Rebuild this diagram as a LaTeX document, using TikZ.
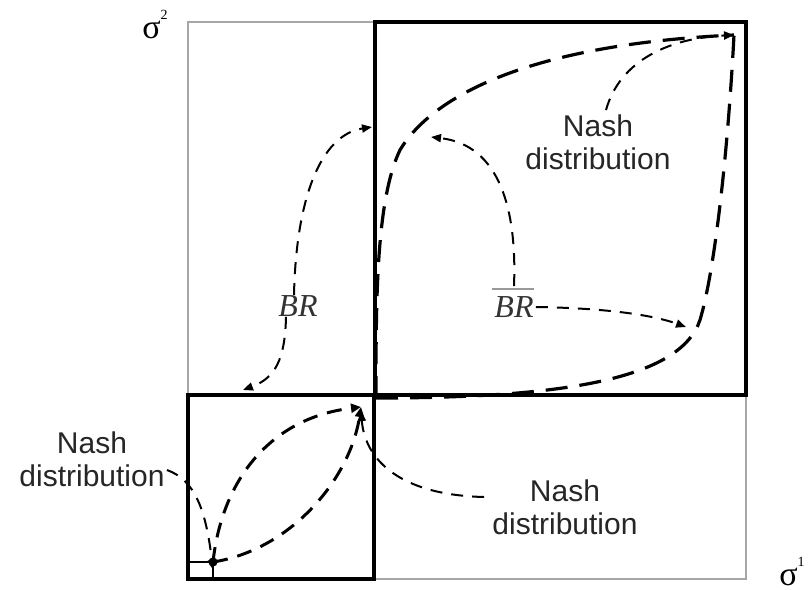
\documentclass[tikz,border=0pt]{standalone}
\usepackage{fontspec}
\setmainfont{Liberation Sans}
\newfontfamily\seriffont{Liberation Serif}
\usetikzlibrary{arrows.meta}
\begin{document}
\begin{tikzpicture}[x=0.5pt,y=-0.5pt,
  graybox/.style={draw=black!35, line width=1pt},
  thickbox/.style={draw=black, line width=2.2pt},
  bigdash/.style={line width=1.6pt, dash pattern=on 11pt off 6pt},
  lensdash/.style={line width=1.5pt, dash pattern=on 7.5pt off 5pt, -{Triangle[length=5pt,width=4.5pt]}},
  thindash/.style={line width=1pt, dash pattern=on 6pt off 4.5pt, -{Triangle[length=5pt,width=4pt]}},
  lbl/.style={font=\fontsize{15}{16.5}\selectfont, text=black!85, align=center, inner sep=0pt},
  brlbl/.style={font=\seriffont\itshape\fontsize{16}{18}\selectfont, text=black!80, inner sep=0pt},
  siglbl/.style={font=\seriffont\fontsize{17}{19}\selectfont, inner sep=0pt}]

\useasboundingbox (0,0) rectangle (811,590);

% outer gray square
\draw[graybox] (188,22) rectangle (746,579);

% key points
\coordinate (D) at (213,562);
\coordinate (T) at (361,407);
\coordinate (M) at (376,398);
\coordinate (P) at (734,35);

% tiny box and dot
\draw[line width=1pt] (188,562) -- (D) -- (213,579);
\fill (D) circle[radius=2.3pt];

% labels
\node[lbl] (nashTR) at (598,142) {Nash\\distribution};
\node[lbl] (nashBL) at (92,459) {Nash\\distribution};
\node[lbl] (nashBR) at (565,507) {Nash\\distribution};
\node[brlbl] (br) at (298,306) {BR};
\node[brlbl] (brbar) at (514,307) {BR};
\draw[line width=1.2pt, black!40] ([xshift=-1pt,yshift=3.5pt]brbar.north west) -- ([yshift=3.5pt]brbar.north east);
\node[siglbl, anchor=base west] (s2) at (142,38) {σ\raisebox{0.55em}{\fontsize{7}{7}\selectfont 2}};
\node[siglbl, anchor=base west] (s1) at (779,585) {σ\raisebox{0.55em}{\fontsize{7}{7}\selectfont 1}};

% lens curves in the small box
\draw[lensdash] (D) .. controls (222,480) and (270,418) .. (T);
\draw[lensdash] (D) .. controls (290,550) and (350,480) .. (T);

% big curves in the big box
\draw[bigdash] (M) .. controls (376,300) and (376,200) .. (400,150)
  .. controls (430,100) and (520,45) .. (P);
\draw[bigdash] (M) .. controls (560,398) and (680,380) .. (700,320)
  .. controls (715,270) and (728,150) .. (P);

% BR arrows
\coordinate (brUp) at (372,127);
\coordinate (brDn) at (243,390);
\draw[thindash] ([xshift=-2pt]br.north) .. controls (296,200) and (320,135) .. (brUp);
\draw[thindash] ([xshift=-6pt]br.south) .. controls (285,360) and (275,378) .. (brDn);

% BR-bar arrows
\coordinate (bbUp) at (431,137);
\coordinate (bbRt) at (686,327);
\draw[thindash] ([yshift=5pt]brbar.north) .. controls (517,210) and (500,145) .. (bbUp);
\draw[thindash] ([xshift=1pt]brbar.east) .. controls (600,308) and (650,314) .. (bbRt);

% Nash arrows
\draw[thindash] ([xshift=4pt,yshift=2pt]nashTR.north) .. controls (620,60) and (670,38) .. (P);
\draw[thindash] ([xshift=1pt,yshift=-5.5pt]nashBL.east) .. controls (195,480) and (206,510) .. ([yshift=-4pt]D);
\draw[thindash] ([xshift=-4pt,yshift=5pt]nashBR.west) .. controls (400,495) and (365,460) .. ([yshift=-2pt]T);

% thick boxes
\draw[thickbox] (375,22) rectangle (746,395);
\draw[thickbox] (188,395) rectangle (374,579);
\end{tikzpicture}
\end{document}
